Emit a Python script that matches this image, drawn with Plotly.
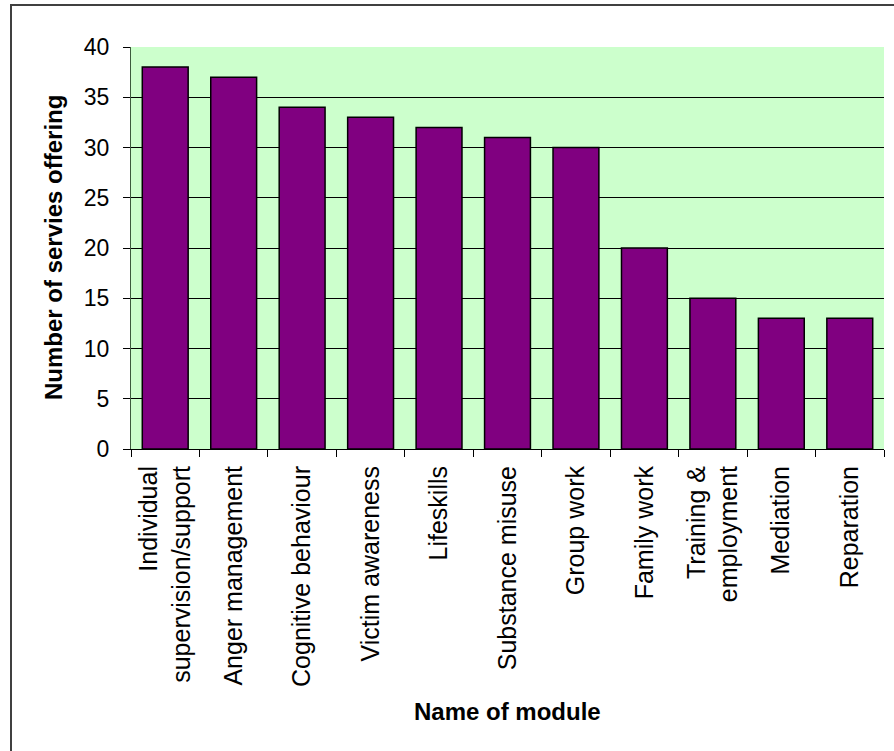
import plotly.graph_objects as go

# Modules and how many services offer each one
modules = [
    "Individual<br>supervision/support",
    "Anger management",
    "Cognitive behaviour",
    "Victim awareness",
    "Lifeskills",
    "Substance misuse",
    "Group work",
    "Family work",
    "Training &<br>employment",
    "Mediation",
    "Reparation",
]
services = [38, 37, 34, 33, 32, 31, 30, 20, 15, 13, 13]
y_ticks = [0, 5, 10, 15, 20, 25, 30, 35, 40]

FONT = "Liberation Sans, Arial, sans-serif"

fig = go.Figure(
    go.Bar(
        x=modules,
        y=services,
        marker=dict(color="#800080", line=dict(color="#000000", width=1.5)),
        width=0.67,
    )
)

W, H = 894, 751
L, R, T, B = 131, 10, 47, 302
pw, ph = W - L - R, H - T - B

def px_x(v):
    return (v - L) / pw

def px_y(v):
    return (H - B - v) / ph

# Frame around the whole chart area
fig.add_shape(
    type="rect", xref="paper", yref="paper",
    x0=px_x(11), x1=px_x(905), y0=px_y(765), y1=px_y(5),
    line=dict(color="#404040", width=2), layer="below",
)

# Axis titles placed at fixed positions
fig.add_annotation(
    text="<b>Name of module</b>", xref="paper", yref="paper",
    x=px_x(507), y=px_y(711), xanchor="center", yanchor="middle",
    showarrow=False, font=dict(size=24, family=FONT, color="black"),
)
fig.add_annotation(
    text="<b>Number of servies offering</b>", xref="paper", yref="paper",
    x=px_x(53), y=px_y(248), xanchor="center", yanchor="middle",
    textangle=-90, showarrow=False, font=dict(size=24, family=FONT, color="black"),
)

fig.update_layout(
    width=W, height=H,
    margin=dict(l=L, r=R, t=T, b=B, pad=0),
    paper_bgcolor="white",
    plot_bgcolor="#CCFFCC",
    showlegend=False,
    font=dict(family=FONT, color="black", size=20),
    bargap=0.33,
)

fig.update_xaxes(
    type="category",
    tickangle=-90,
    tickfont=dict(size=25, family=FONT),
    ticks="outside", ticklen=7, tickcolor="black", tickwidth=1,
    tickson="boundaries",
    ticklabelstandoff=6,
    showline=True, linecolor="black", linewidth=1,
    showgrid=False,
)

fig.update_yaxes(
    range=[0, 40],
    tickvals=y_ticks,
    tickfont=dict(size=23, family=FONT),
    ticks="outside", ticklen=7, tickcolor="black", tickwidth=1,
    ticklabelstandoff=9,
    showline=True, linecolor="#3c5a3c", linewidth=1,
    showgrid=True, gridcolor="black", gridwidth=1,
    zeroline=False,
)

fig.write_html("out.html")
